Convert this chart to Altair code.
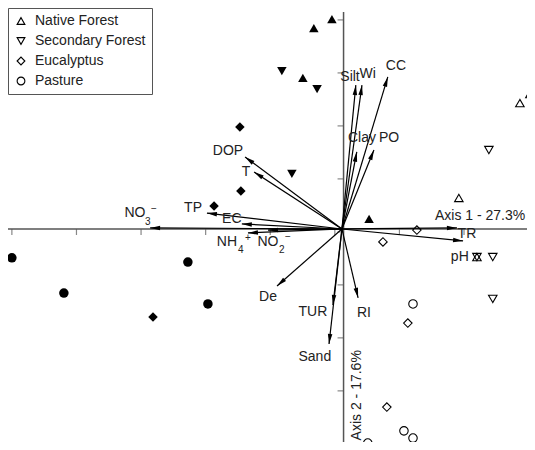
import math
import altair as alt
import pandas as pd

W, H = 519, 434
XDOM = [-1.034, 0.573]
YDOM = [-0.804, 0.834]
FONT = "Liberation Sans"

groups = ["Native Forest", "Secondary Forest", "Eucalyptus", "Pasture"]
shapes = ["triangle-up", "triangle-down", "diamond", "circle"]

# open (hollow) site scores
open_group = (["Native Forest"] * 4 + ["Secondary Forest"] * 4 +
              ["Eucalyptus"] * 4 + ["Pasture"] * 4)
open_x = [0.551, 0.582, 0.362, 0.418, 0.455, 0.418, 0.467, 0.467,
          0.232, 0.127, 0.204, 0.139, 0.220, 0.080, 0.192, 0.220]
open_y = [0.475, 0.509, 0.117, -0.106, 0.298, -0.106, -0.106, -0.264,
          -0.004, -0.049, -0.355, -0.672, -0.283, -0.808, -0.762, -0.789]

# filled site scores
fill_group = (["Native Forest"] * 4 + ["Secondary Forest"] * 3 +
              ["Eucalyptus"] * 4 + ["Pasture"] * 4)
fill_x = [-0.031, -0.087, -0.121, 0.084, -0.186, -0.077, -0.155,
          -0.316, -0.313, -0.396, -0.585, -1.022, -0.861, -0.477, -0.415]
fill_y = [0.792, 0.758, 0.570, 0.038, 0.596, 0.528, 0.208,
          0.385, 0.143, 0.087, -0.332, -0.109, -0.242, -0.125, -0.283]

# variable vectors (tips)
var_names = ["CC", "Silt", "Wi", "Clay", "PO", "DOP", "T", "TP", "EC", "NO3",
             "NH4", "NO2", "TR", "pH", "De", "TUR", "Sand", "RI"]
var_x = [0.142, 0.043, 0.062, 0.046, 0.099, -0.300, -0.272, -0.418, -0.310,
         -0.594, -0.291, -0.229, 0.356, 0.375, -0.201, -0.028, -0.040, 0.050]
var_y = [0.574, 0.543, 0.543, 0.291, 0.298, 0.272, 0.215, 0.060, 0.019,
         0.004, -0.015, -0.004, 0.004, -0.045, -0.215, -0.287, -0.434, -0.260]

# vector labels
lab_text = ["CC", "Silt", "Wi", "Clay", "PO", "DOP", "T", "TP", "EC", "NO",
            "NH", "NO", "TR", "pH", "De", "TUR", "Sand", "RI"]
lab_x = [0.167, 0.025, 0.080, 0.062, 0.146, -0.353, -0.297, -0.461, -0.341,
         -0.641, -0.356, -0.229, 0.387, 0.365, -0.229, -0.090, -0.084, 0.068]
lab_y = [0.615, 0.574, 0.585, 0.343, 0.343, 0.294, 0.215, 0.079, 0.038,
         0.060, -0.049, -0.049, -0.019, -0.106, -0.257, -0.313, -0.483, -0.317]

# sub/superscripts
scr_text = ["3", "\u2212", "4", "+", "2", "\u2212"]
scr_x = [-0.601, -0.582, -0.313, -0.291, -0.186, -0.167]
scr_y = [0.026, 0.075, -0.079, -0.034, -0.079, -0.030]

# axis ticks
x_ticks = [-1.022, -0.822, -0.622, -0.422, -0.222, -0.022, 0.178, 0.378]
y_ticks = [0.789, 0.589, 0.389, 0.189, -0.011, -0.211, -0.411, -0.611, -0.811]
v_axis_x = 0.005
v_axis_top = 0.819

axis1_title = "Axis 1 - 27.3%"
axis2_title = "Axis 2 - 17.6%"

xs = alt.Scale(domain=XDOM, nice=False, zero=False)
ys = alt.Scale(domain=YDOM, nice=False, zero=False)
sx = W / (XDOM[1] - XDOM[0])
sy = H / (YDOM[1] - YDOM[0])

df_open = pd.DataFrame({"g": open_group, "x": open_x, "y": open_y})
df_fill = pd.DataFrame({"g": fill_group, "x": fill_x, "y": fill_y})
df_var = pd.DataFrame({"n": var_names, "x": var_x, "y": var_y,
                       "ox": [0.0] * len(var_x), "oy": [0.0] * len(var_y)})
df_var["ang"] = [math.degrees(math.atan2(a * sx, b * sy)) % 360 for a, b in zip(var_x, var_y)]
df_lab = pd.DataFrame({"t": lab_text, "x": lab_x, "y": lab_y})
df_scr = pd.DataFrame({"t": scr_text, "x": scr_x, "y": scr_y})
df_xt = pd.DataFrame({"x": x_ticks, "y": [0.0] * len(x_ticks)})
df_yt = pd.DataFrame({"y": y_ticks, "x": [v_axis_x] * len(y_ticks)})
df_h = pd.DataFrame({"x": [XDOM[0]], "x2": [XDOM[1]], "y": [0.0]})
df_v = pd.DataFrame({"y": [YDOM[0]], "y2": [v_axis_top], "x": [v_axis_x]})

AXC = "#555555"
TXT = "#222222"


def X(f):
    return alt.X(f, scale=xs, axis=None)


def Y(f):
    return alt.Y(f, scale=ys, axis=None)


h_axis = alt.Chart(df_h).mark_rule(color=AXC, strokeWidth=1.5).encode(
    x=X("x:Q"), x2="x2:Q", y=Y("y:Q"))
v_axis = alt.Chart(df_v).mark_rule(color=AXC, strokeWidth=1.5).encode(
    y=Y("y:Q"), y2="y2:Q", x=X("x:Q"))
xt = alt.Chart(df_xt).mark_tick(orient="vertical", size=6, thickness=1.2, color=AXC,
                                yOffset=3).encode(x=X("x:Q"), y=Y("y:Q"))
yt = alt.Chart(df_yt).mark_tick(orient="horizontal", size=6, thickness=1.2, color=AXC,
                                xOffset=-3).encode(x=X("x:Q"), y=Y("y:Q"))

pts_open = alt.Chart(df_open).mark_point(filled=False, color="black", strokeWidth=1.1,
                                         size=72, opacity=1).encode(
    x=X("x:Q"), y=Y("y:Q"),
    shape=alt.Shape("g:N", scale=alt.Scale(domain=groups, range=shapes),
                    legend=alt.Legend(title=None, orient="none", legendX=0, legendY=0,
                                      strokeColor="#555555", fillColor="white", padding=6,
                                      labelFont=FONT, labelFontSize=14, labelColor=TXT,
                                      symbolSize=60, symbolStrokeWidth=1.1,
                                      symbolStrokeColor="black", rowPadding=6,
                                      labelOffset=7, labelLimit=300)))

fill_layers = []
for g, s in zip(groups, shapes):
    fill_layers.append(
        alt.Chart(df_fill).transform_filter(alt.datum.g == g).mark_point(
            filled=True, color="black", size=90, opacity=1, shape=s).encode(
            x=X("x:Q"), y=Y("y:Q")))

lines = alt.Chart(df_var).mark_rule(color="black", strokeWidth=1.2).encode(
    x=X("ox:Q"), y=Y("oy:Q"), x2="x:Q", y2="y:Q")
heads = alt.Chart(df_var).mark_point(shape="M0,0L-0.45,2L0.45,2Z", filled=True,
                                     color="black", size=100, opacity=1).encode(
    x=X("x:Q"), y=Y("y:Q"), angle=alt.Angle("ang:Q", scale=None))

labels = alt.Chart(df_lab).mark_text(font=FONT, fontSize=14, color=TXT,
                                     align="center", baseline="middle").encode(
    x=X("x:Q"), y=Y("y:Q"), text="t:N")
scripts = alt.Chart(df_scr).mark_text(font=FONT, fontSize=10, color=TXT,
                                      align="center", baseline="middle").encode(
    x=X("x:Q"), y=Y("y:Q"), text="t:N")

t1 = alt.Chart(pd.DataFrame({"t": [axis1_title], "x": [0.288], "y": [0.049]})).mark_text(
    font=FONT, fontSize=14, color=TXT, align="left", baseline="middle").encode(
    x=X("x:Q"), y=Y("y:Q"), text="t:N")
t2 = alt.Chart(pd.DataFrame({"t": [axis2_title], "x": [0.046], "y": [-0.798]})).mark_text(
    font=FONT, fontSize=14, color=TXT, align="left", baseline="middle", angle=270).encode(
    x=X("x:Q"), y=Y("y:Q"), text="t:N")

chart = alt.layer(
    h_axis, v_axis, xt, yt, pts_open, *fill_layers, lines, heads, labels, scripts, t1, t2
).properties(
    width=W, height=H, padding=0, autosize=alt.AutoSizeParams(type="none")
).configure_view(stroke=None)

chart.save("out.html", embed_options={"renderer": "svg", "actions": False})
